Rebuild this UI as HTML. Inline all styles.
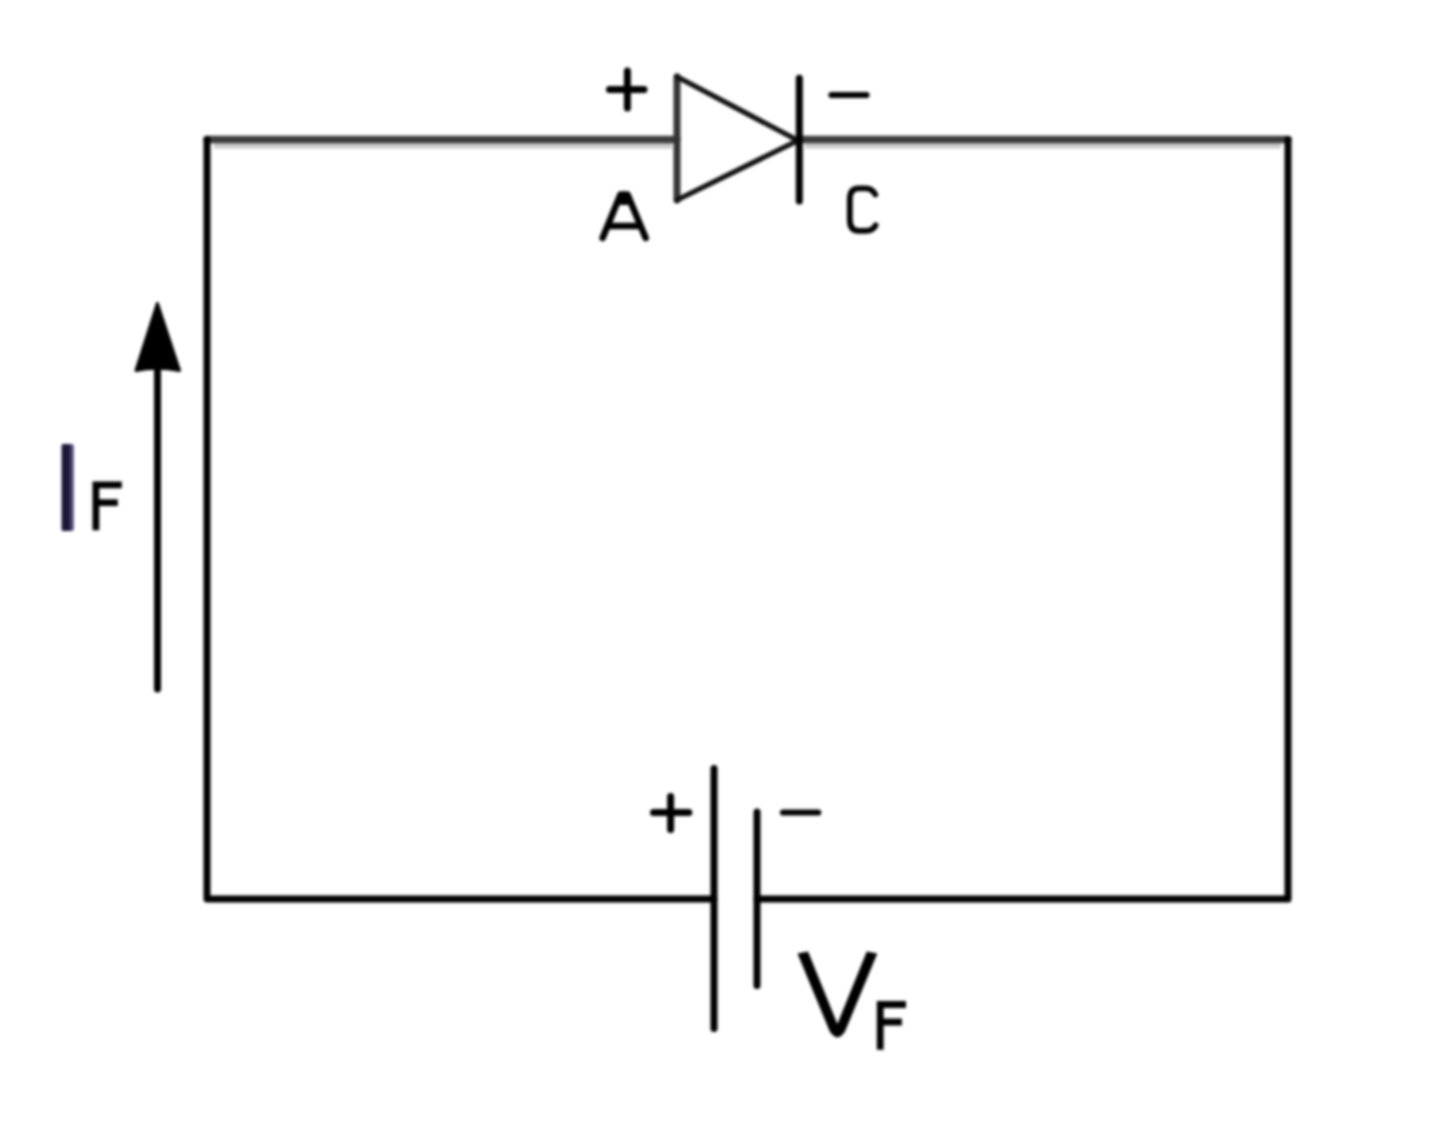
<!DOCTYPE html>
<html><head><meta charset="utf-8">
<style>
html,body{margin:0;padding:0;background:#fff;}
body{width:1440px;height:1137px;overflow:hidden;}
svg{display:block;}
</style></head>
<body>
<svg width="1440" height="1137" viewBox="0 0 1440 1137" xmlns="http://www.w3.org/2000/svg">
<defs><filter id="b" x="-5%" y="-5%" width="110%" height="110%" color-interpolation-filters="sRGB"><feGaussianBlur stdDeviation="1.5"/></filter></defs>
<g filter="url(#b)" fill="none" stroke="#000" stroke-width="7" stroke-linecap="round" stroke-linejoin="round">
<!-- top wire halo -->
<path d="M214 144.8 H672 M805 144.8 H1281" stroke="#c9c9c9" stroke-width="7.3" stroke-linecap="butt"/>
<!-- top wire (grayish) -->
<path d="M207 139.6 H677 M799 139.6 H1288" stroke="#3d3d3d" stroke-width="7.5"/>
<!-- other wires -->
<path d="M207 139.6 V899 H714 M757 899 H1288 V139.6"/>
<!-- diode -->
<path d="M677 76.8 V200" stroke="#333"/>
<path d="M677 76.8 L798 140.5 L677 200" stroke="#111" stroke-width="5.2"/>
<path d="M799.3 78.3 V201"/>
<!-- battery -->
<path d="M714 768.4 V1028.4"/>
<path d="M757 812 V985.5"/>
<!-- plus/minus -->
<path d="M609.5 89.6 H644 M627.4 71 V108"/>
<path d="M831.5 95 H866.5" stroke-width="6.2"/>
<path d="M653.5 812.6 H688.8 M670.6 796.5 V829.4"/>
<path d="M783 812.5 H818.2" stroke-width="6.2"/>
<!-- arrow shaft -->
<path d="M157.5 365 V689"/>
<!-- A -->
<path d="M602.6 238 L620.5 194.5 H627.5 L645.7 238" stroke-width="6.5"/>
<path d="M606.5 226 H641.5" stroke-width="6.5" stroke-linecap="butt"/>
<path d="M620.5 194 H627.5 L628 205 H620 Z" fill="#000" stroke="none"/>
<!-- C -->
<path d="M875.3 194.5 Q872 188.3 866 188.3 H858.5 Q849.8 188.3 849.8 199.5 V219.5 Q849.8 230.8 858.5 230.8 H866 Q872.5 230.8 875.6 225.3" stroke-width="5.8"/>
<!-- I_F F -->
<path d="M121.8 484.8 H95.9 V530.3 M95.9 502.6 H117.8" stroke-width="6.8" stroke-linecap="butt" stroke-linejoin="miter"/>

<!-- V_F F -->
<path d="M906 1004.5 H880.2 V1049.7 M880.2 1022 H901.9" stroke-width="6.8" stroke-linecap="butt" stroke-linejoin="miter"/>
</g>
<g filter="url(#b)">
<path d="M157.4 303.5 L136 370.5 Q157 366 179.5 370.5 Z" fill="#000" stroke="#000" stroke-width="3" stroke-linejoin="round"/>
<path d="M797.5 953.5 L808 951.5 L837.4 1024 L866.8 951.5 L877.3 953.5 L845 1031.5 Q837.4 1043 829.8 1031.5 Z" fill="#000"/>
<rect x="61.7" y="444" width="12" height="87" rx="2" fill="#4a4272"/>
<rect x="61.7" y="444" width="8" height="87" rx="1.5" fill="#1c1638"/>
</g>
</svg>
</body></html>
